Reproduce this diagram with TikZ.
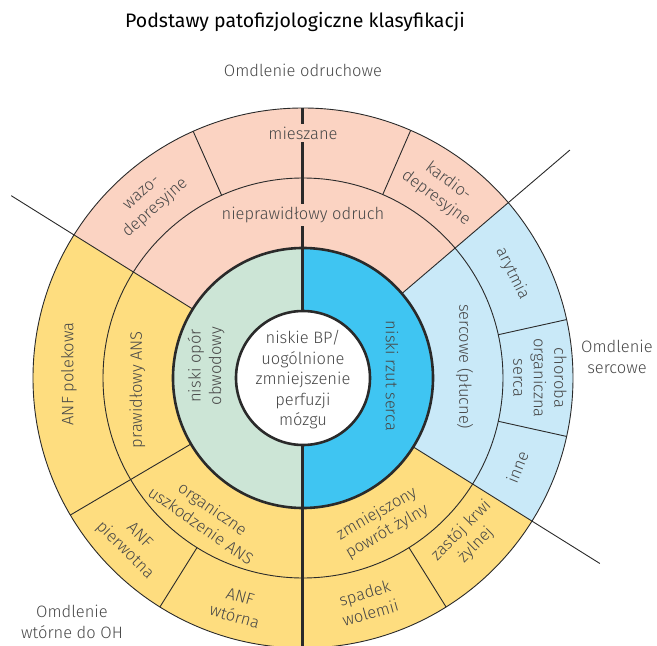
\documentclass[tikz,border=0pt]{standalone}
\usepackage{fontspec}
\setmainfont{Fira Sans Light}
\newfontfamily\titlefont{Fira Sans}
\usetikzlibrary{calc}
\definecolor{peach}{HTML}{FBD3C2}
\definecolor{sand}{HTML}{FEDD7F}
\definecolor{sky}{HTML}{C9E9F8}
\definecolor{mint}{HTML}{CCE5D6}
\definecolor{cyanblue}{HTML}{3FC5F2}
\definecolor{labeltext}{HTML}{474747}
\definecolor{rimline}{HTML}{2A2A2A}
\tikzset{
  lbl/.style={text=labeltext,align=center,inner sep=1pt,
    font=\fontsize{16.5}{20.5}\selectfont},
  thinrim/.style={draw=rimline,line width=0.9pt},
  thickrim/.style={draw=rimline,line width=2.6pt}
}
% filled part of a ring: start angle, end angle, inner radius, outer radius, colour
\newcommand{\ringpart}[5]{%
  \fill[#5] (#1:#3) arc[start angle=#1,end angle=#2,radius=#3]
    -- (#2:#4) arc[start angle=#2,end angle=#1,radius=#4] -- cycle;}

\begin{document}
\begin{tikzpicture}[x=1pt,y=1pt]
        \useasboundingbox (-303,-268) rectangle (354,378);
        % draw coloured sectors
        \ringpart{40.5}{148}{0}{270}{peach}
        \ringpart{148}{328}{0}{270}{sand}
        \ringpart{-32}{40.5}{0}{270}{sky}
        \ringpart{90}{270}{0}{130}{mint}
        \ringpart{-90}{90}{0}{130}{cyanblue}
        % draw ring borders
        \draw[thinrim] (0,0) circle[radius=270];
        \draw[thinrim] (0,0) circle[radius=200];
        % draw radial lines
        \foreach \a/\ri/\ro in {148/130/344,-32/130/350,40.5/130/351,210.5/130/270,
                                238/200/270,302/200/270,114/200/270,66.5/200/270,
                                12.5/200/270,-12.5/200/270}
        \draw[thinrim] (\a:\ri) -- (\a:\ro);
        % draw vertical line
        \draw[thickrim,line width=3pt] (0,270) -- (0,-268);
        \draw[thickrim] (0,0) circle[radius=130];
        \draw[thickrim,fill=white] (0,0) circle[radius=67];
        % draw nodes
        \node[lbl] (core) at (0,-2) {niskie BP/\\uogólnione\\zmniejszenie\\perfuzji\\mózgu};
        \node[lbl,rotate=90] (resist) at (-97,12) {niski opór\\obwodowy};
        \node[lbl,rotate=-90] (output) at (89,2) {niski rzut serca};
        \node[lbl,fill=peach,inner ysep=3pt] (abnormal) at (0,163) {nieprawidłowy odruch};
        \node[lbl,fill=peach,inner ysep=3pt] (mixed) at (0,245) {mieszane};
        \node[lbl,rotate=41.7] (vaso) at (131:234) {wazo-\\depresyjne};
        \node[lbl,rotate=-36.5] (cardio) at (53.5:234) {kardio-\\depresyjne};
        \node[lbl,rotate=-63.5] (arrhythmia) at (26.5:234) {arytmia};
        \node[lbl,rotate=-90] (structural) at (0:237) {choroba\\organiczna\\serca};
        \node[lbl,rotate=68] (other) at (-22.5:232) {inne};
        \node[lbl,rotate=-90] (cardiac) at (4:162) {sercowe (płucne)};
        \node[lbl,rotate=30] (venous) at (298.6:165) {zmniejszony\\powrót żylny};
        \node[lbl,rotate=45] (stasis) at (-44:230) {zastój krwi\\żylnej};
        \node[lbl,rotate=16] (volume) at (286:234) {spadek\\wolemii};
        \node[lbl,rotate=-35] (damage) at (235.4:169) {organiczne\\uszkodzenie ANS};
        \node[lbl,rotate=-16] (secondary) at (254:238) {ANF\\wtórna};
        \node[lbl,rotate=-45] (primary) at (224:238) {ANF\\pierwotna};
        \node[lbl,rotate=90] (drug) at (179:234) {ANF polekowa};
        \node[lbl,rotate=90] (normal) at (184:166) {prawidłowy ANS};
        % draw group names
        \node[lbl] (reflex) at (0,308) {Omdlenie odruchowe};
        \node[lbl] (heart) at (314,21) {Omdlenie\\sercowe};
        \node[lbl] (orthostatic) at (-231,-244) {Omdlenie\\wtórne do OH};
        \node[font=\titlefont\fontsize{19.5}{23}\selectfont,text=black] (title) at (-8,356)
          {Podstawy patofizjologiczne klasyfikacji};
\end{tikzpicture}
\end{document}
